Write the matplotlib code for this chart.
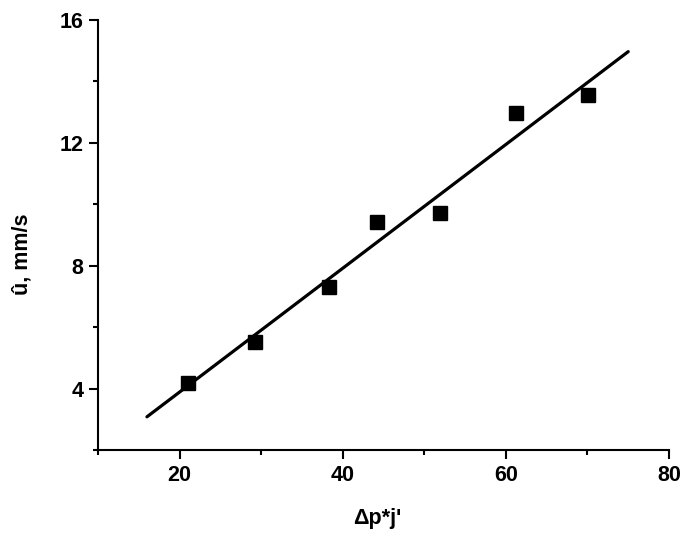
import numpy as np
import matplotlib.pyplot as plt
from matplotlib.ticker import MultipleLocator

# measured points
dpj = [21.0, 29.2, 38.3, 44.2, 51.9, 61.3, 70.1]
u_hat = [4.19, 5.51, 7.32, 9.42, 9.72, 12.97, 13.57]

# linear fit line ends
fit_x = [16.0, 75.0]
fit_y = [3.08, 14.97]

plt.rcParams['font.family'] = ['Liberation Sans', 'DejaVu Sans']
plt.rcParams['font.weight'] = 'bold'

dpi = 100
fig = plt.figure(figsize=(689 / dpi, 536 / dpi), dpi=dpi)
ax = fig.add_axes([98 / 689, 1 - 450 / 536, (669 - 98) / 689, (450 - 20) / 536])

ax.plot(fit_x, fit_y, color='black', lw=2.3, solid_capstyle='round', zorder=2)
ax.plot(dpj, u_hat, ls='none', marker='s', ms=9.5, color='black', zorder=3)

ax.set_xlim(10, 80)
ax.set_ylim(2, 16)
ax.xaxis.set_major_locator(MultipleLocator(20))
ax.xaxis.set_minor_locator(MultipleLocator(10))
ax.yaxis.set_major_locator(MultipleLocator(4))
ax.yaxis.set_minor_locator(MultipleLocator(2))

for s in ['top', 'right']:
    ax.spines[s].set_visible(False)
for s in ['left', 'bottom']:
    ax.spines[s].set_linewidth(1.5)

ax.tick_params(which='major', length=6.5, width=1.5, labelsize=15.5, pad=4)
ax.tick_params(which='minor', length=3.5, width=1.5)

ax.set_xlabel("\u0394p*j'", fontsize=15.5, fontweight='bold')
ax.set_ylabel('\u00fb, mm/s', fontsize=15.5, fontweight='bold')
ax.xaxis.set_label_coords(0.489, -0.135)
ax.yaxis.set_label_coords(-0.115, 0.455)

fig.savefig('out.png', dpi=dpi)
